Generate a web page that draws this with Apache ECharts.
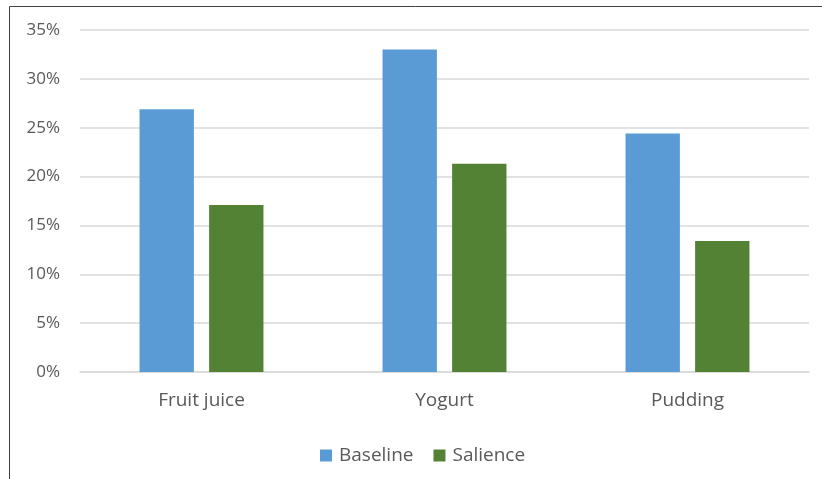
<!DOCTYPE html>
<html>
<head>
<meta charset="utf-8">
<script src="https://cdn.jsdelivr.net/npm/echarts@6/dist/echarts.min.js"></script>
<style>
  html, body { margin: 0; padding: 0; background: #fff; }
  #chart { width: 822px; height: 479px; }
</style>
</head>
<body>
<div id="chart"></div>
<script>
// Share of choices by product, baseline vs. salience condition (percent)
const categories = ['Fruit juice', 'Yogurt', 'Pudding'];
const baseline = [26.9, 33.0, 24.4];
const salience = [17.1, 21.3, 13.4];
const yTicks = [0, 5, 10, 15, 20, 25, 30, 35];

const chart = echarts.init(document.getElementById('chart'));
const textColor = '#595959';
const fontFamily = '"Open Sans", "Noto Sans", sans-serif';

chart.setOption({
  animation: false,
  textStyle: { fontFamily: fontFamily },
  graphic: [
    { type: 'line', shape: { x1: 9.5, y1: 6.5, x2: 822, y2: 6.5 }, style: { stroke: '#404040', lineWidth: 1 } },
    { type: 'line', shape: { x1: 9.5, y1: 6.5, x2: 9.5, y2: 479 }, style: { stroke: '#404040', lineWidth: 1 } }
  ],
  grid: { left: 80, right: 13, top: 30, bottom: 107, containLabel: false },
  legend: {
    top: 441,
    left: 315,
    itemWidth: 12,
    itemHeight: 12,
    itemGap: 20,
    icon: 'rect',
    textStyle: { color: textColor, fontSize: 19, fontFamily: fontFamily, padding: [0, 0, 0, 2] },
    data: ['Baseline', 'Salience']
  },
  xAxis: {
    type: 'category',
    data: categories,
    axisLine: { lineStyle: { color: '#d9d9d9', width: 1.5 } },
    axisTick: { show: false },
    axisLabel: { color: textColor, fontSize: 19, margin: 19, fontFamily: fontFamily }
  },
  yAxis: {
    type: 'value',
    min: yTicks[0],
    max: yTicks[yTicks.length - 1],
    interval: 5,
    axisLine: { show: false },
    axisTick: { show: false },
    splitLine: { lineStyle: { color: '#d9d9d9', width: 1.5 } },
    axisLabel: { color: textColor, fontSize: 17, margin: 20, formatter: v => v + '%', fontFamily: fontFamily }
  },
  series: [
    {
      name: 'Baseline', type: 'bar', data: baseline,
      itemStyle: { color: '#5B9BD5' },
      barGap: '28%', barCategoryGap: '49%'
    },
    {
      name: 'Salience', type: 'bar', data: salience,
      itemStyle: { color: '#548235' },
      barGap: '28%', barCategoryGap: '49%'
    }
  ]
});
</script>
</body>
</html>
